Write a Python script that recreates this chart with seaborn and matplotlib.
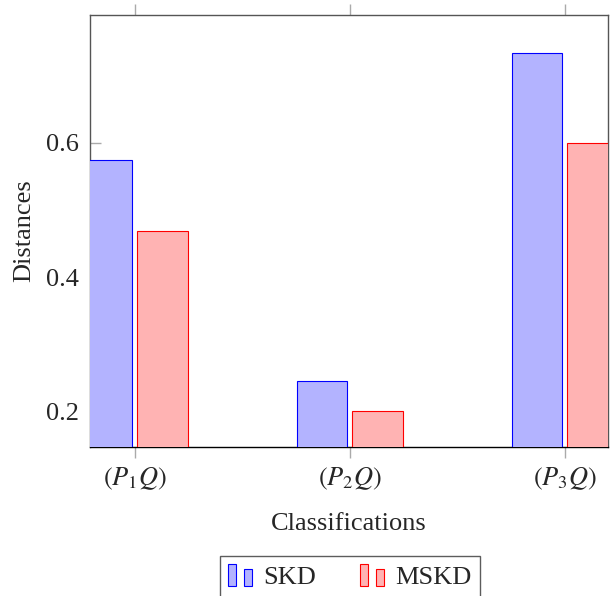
import matplotlib
matplotlib.use('Agg')
import matplotlib.pyplot as plt
import seaborn as sns
import pandas as pd
from matplotlib.patches import Rectangle
from matplotlib.legend_handler import HandlerBase

categories = ['$(P_1Q)$', '$(P_2Q)$', '$(P_3Q)$']
series = ['SKD', 'MSKD']
skd = [0.575, 0.245, 0.734]
mskd = [0.469, 0.200, 0.600]
yticks = [0.2, 0.4, 0.6]
ytick_labels = ['0.2', '0.4', '0.6']

sns.set_theme(style='white')
plt.rcParams['font.family'] = ['Liberation Serif', 'DejaVu Serif']
plt.rcParams['mathtext.fontset'] = 'stix'

df = pd.DataFrame({'cat': categories * 2,
                   'series': ['SKD'] * 3 + ['MSKD'] * 3,
                   'value': skd + mskd})

fills = {'SKD': '#b3b3ff', 'MSKD': '#ffb3b3'}
edges = {'SKD': '#0000ff', 'MSKD': '#ff0000'}
FS = 19

fig = plt.figure(figsize=(6.11, 5.96), dpi=100)
ax = fig.add_axes([90 / 611, 149 / 596, 518 / 611, 432 / 596])
sns.barplot(data=df, x='cat', y='value', hue='series', hue_order=series,
            palette=fills, width=0.516, gap=0.09, ax=ax, legend=False,
            saturation=1, zorder=3, err_kws={'linewidth': 0})
for cont, s in zip(ax.containers, series):
    for p in cont:
        p.set_edgecolor(edges[s])
        p.set_linewidth(0.8)

ax.set_xlim(-0.209, 2.2)
ax.set_ylim(0.1463, 0.791)
ax.set_yticks(yticks)
ax.set_yticklabels(ytick_labels)
for sp in ['top', 'left', 'right']:
    ax.spines[sp].set_color('#555555')
    ax.spines[sp].set_linewidth(1.0)
ax.spines['bottom'].set_color('black')
ax.spines['bottom'].set_linewidth(1.0)

ax.tick_params(axis='x', which='both', bottom=True, top=True, direction='out',
               length=8, width=1, color='#aaaaaa', labelsize=FS, pad=5)
ax.tick_params(axis='y', which='both', left=True, right=False, direction='in',
               length=8, width=1, color='#aaaaaa', labelsize=FS, pad=8)
ax.set_xlabel('Classifications', fontsize=FS, labelpad=15)
ax.set_ylabel('Distances', fontsize=FS, labelpad=8)


class TwoBar(HandlerBase):
    def __init__(self, fc, ec):
        super().__init__()
        self.fc = fc
        self.ec = ec

    def create_artists(self, legend, orig_handle, xdescent, ydescent,
                       width, height, fontsize, trans):
        w = width / 3
        r1 = Rectangle((-xdescent, -ydescent), w, height,
                       facecolor=self.fc, edgecolor=self.ec, lw=0.8, transform=trans)
        r2 = Rectangle((-xdescent + 2 * w, -ydescent), w, height * 0.75,
                       facecolor=self.fc, edgecolor=self.ec, lw=0.8, transform=trans)
        return [r1, r2]


h1 = Rectangle((0, 0), 1, 1)
h2 = Rectangle((0, 0), 1, 1)
leg = fig.legend([h1, h2], series,
                 handler_map={h1: TwoBar(fills['SKD'], edges['SKD']),
                              h2: TwoBar(fills['MSKD'], edges['MSKD'])},
                 loc='upper center', bbox_to_anchor=(350 / 611, 1 - 556 / 596),
                 bbox_transform=fig.transFigure, ncol=2, fontsize=FS,
                 frameon=True, fancybox=False, edgecolor='#333333',
                 handlelength=0.91, handleheight=0.9, handletextpad=0.42,
                 columnspacing=1.67, borderpad=0.3, borderaxespad=0)
leg.get_frame().set_linewidth(1.0)

fig.savefig('out.png', dpi=100)
